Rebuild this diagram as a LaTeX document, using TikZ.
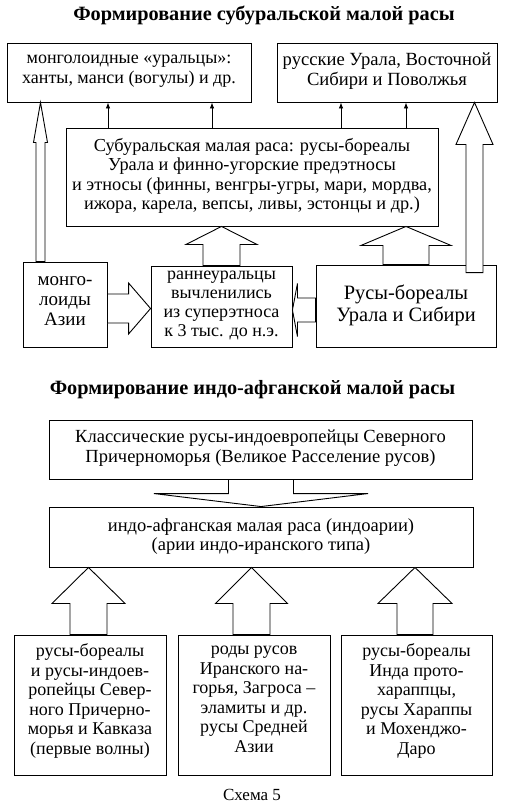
\documentclass[tikz,border=0pt]{standalone}
\usepackage{fontspec}
\setmainfont{Liberation Serif}
\usetikzlibrary{arrows.meta,calc}

\tikzset{
  box/.style={draw,line width=0.9pt,fill=white,align=center,inner sep=0pt,
    font=\fontsize{18}{19.5}\selectfont,
    execute at begin node=\strut,execute at end node=\strut},
  lower/.style={execute at begin node={\rule{0pt}{#1}}},
  raise/.style={execute at end node={\rule[-#1]{0pt}{0pt}}},
  blk/.style={draw,line width=0.9pt,fill=white,line join=miter},
  thinarr/.style={line width=0.8pt,-{Latex[length=6pt,width=4.5pt]}},
  ttl/.style={font=\fontsize{20.3}{22}\selectfont\bfseries}
}
% hollow block arrows: position, from, to, shaft half, head half, head offset
\newcommand{\blkv}[6]{%
  \coordinate (b) at (#1,0 |- #2);
  \coordinate (t) at (#1,0 |- #3);
  \draw[blk] ($(b)+(-#4,0)$) -- ($(t)+(-#4,#6)$) -- ($(t)+(-#5,#6)$) -- (t)
    -- ($(t)+(#5,#6)$) -- ($(t)+(#4,#6)$) -- ($(b)+(#4,0)$) -- cycle;}
\newcommand{\blkh}[6]{%
  \coordinate (b) at (#2 |- 0,#1);
  \coordinate (t) at (#3 |- 0,#1);
  \draw[blk] ($(b)+(0,-#4)$) -- ($(t)+(#6,-#4)$) -- ($(t)+(#6,-#5)$) -- (t)
    -- ($(t)+(#6,#5)$) -- ($(t)+(#6,#4)$) -- ($(b)+(0,#4)$) -- cycle;}

\begin{document}
\begin{tikzpicture}[x=1pt,y=-1pt]
\useasboundingbox (0,0) rectangle (505,808);

% upper scheme
\node[ttl] (ttlone) at (264,15) {Формирование субуральской малой расы};
\node[box,minimum width=244,minimum height=59,font=\fontsize{18}{20}\selectfont]
  (mongur) at (129,72.5) {монголоидные «уральцы»:\\ханты, манси (вогулы) и др.};
\node[box,minimum width=220,minimum height=59,font=\fontsize{18.6}{20}\selectfont]
  (rusural) at (387,72.5) {русские Урала, Восточной\\Сибири и Поволжья};
\node[box,minimum width=372,minimum height=98,font=\fontsize{18.3}{19.5}\selectfont]
  (subural) at (252,177)
  {Субуральская малая раса: русы-бореалы\\Урала и финно-угорские предэтносы\\
   и этносы (финны, венгры-угры, мари, мордва,\\ижора, карела, вепсы, ливы, эстонцы и др.)};
\node[box,minimum width=84,minimum height=85,font=\fontsize{19}{20}\selectfont]
  (mongas) at (65,304.5) {монго-\\лоиды\\Азии};
\node[box,minimum width=141,minimum height=81,font=\fontsize{18}{19}\selectfont,lower=16pt]
  (ranneur) at (221.5,306.5)
  {раннеуральцы\\вычленились\\из суперэтноса\\к 3 тыс. до н.э.};
\node[box,minimum width=180,minimum height=82,font=\fontsize{20.4}{22}\selectfont,lower=32pt]
  (rusbor) at (406,306) {Русы-бореалы\\Урала и Сибири};

\draw[thinarr] (108,0 |- subural.north) -- (108,0 |- mongur.south);
\draw[thinarr] (212,0 |- subural.north) -- (212,0 |- mongur.south);
\draw[thinarr] (341,0 |- subural.north) -- (341,0 |- rusural.south);
\draw[thinarr] (406,0 |- subural.north) -- (406,0 |- rusural.south);

\blkv{40.5}{mongas.north}{mongur.south}{4.5}{7}{40}
\coordinate (ebase) at ($(rusbor.north)+(0,8)$);
\blkv{474.5}{ebase}{rusural.south}{8.5}{18.5}{42}
\blkv{221.5}{ranneur.north}{subural.south}{18.5}{35.5}{18}
\blkv{406}{rusbor.north}{subural.south}{23}{45}{19}
\blkh{308.5}{mongas.east}{ranneur.west}{14.5}{25.5}{-22}
\blkh{310}{rusbor.west}{ranneur.east}{12}{26.5}{5}

% lower scheme
\node[ttl] (ttltwo) at (252.5,390) {Формирование индо-афганской малой расы};
\node[box,minimum width=423,minimum height=59,font=\fontsize{18.5}{20}\selectfont]
  (klass) at (260.5,449.5)
  {Классические русы-индоевропейцы Северного\\Причерноморья (Великое Расселение русов)};
\node[box,minimum width=424,minimum height=60,font=\fontsize{18.5}{19}\selectfont]
  (indoaf) at (261,537)
  {индо-афганская малая раса (индоарии)\\(арии индо-иранского типа)};
\node[box,minimum width=152,minimum height=140,raise=12pt] (borone) at (90,705)
  {русы-бореалы\\и русы-индоев-\\ропейцы Север-\\ного Причерно-\\морья и Кавказа\\(первые волны)};
\node[box,minimum width=152,minimum height=140,raise=12pt] (rodtwo) at (254,705)
  {роды русов\\Иранского на-\\горья, Загроса –\\эламиты и др.\\русы Средней\\Азии};
\node[box,minimum width=151,minimum height=140,raise=12pt] (indthree) at (416.5,705)
  {русы-бореалы\\Инда прото-\\хараппцы,\\русы Хараппы\\и Мохенджо-\\Даро};

\blkv{261}{klass.south}{indoaf.north}{32.5}{107}{-13}
\blkv{88.5}{borone.north}{indoaf.south}{18.5}{36.5}{36}
\blkv{251.5}{rodtwo.north}{indoaf.south}{18.5}{36}{36}
\blkv{415}{indthree.north}{indoaf.south}{18}{37}{36}

\node[font=\fontsize{17}{18}\selectfont] (cap) at (252,795) {Схема 5};
\end{tikzpicture}
\end{document}
